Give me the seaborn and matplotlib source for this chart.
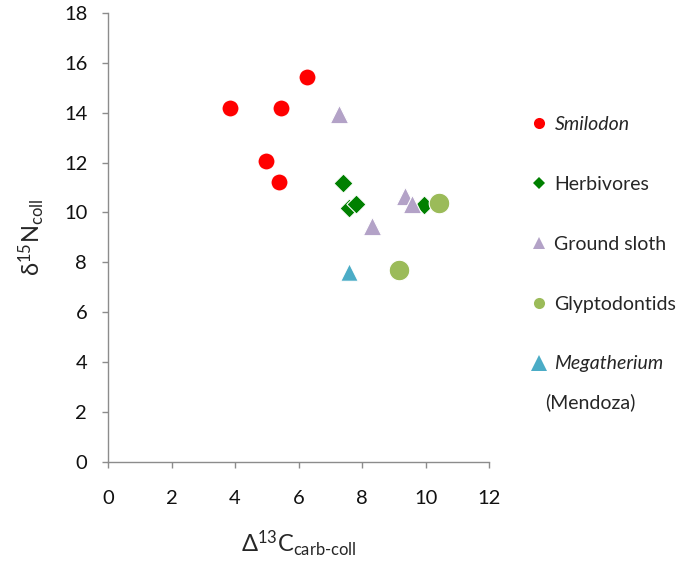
import pandas as pd
import matplotlib
matplotlib.use('Agg')
import matplotlib.pyplot as plt
import seaborn as sns
from matplotlib.lines import Line2D

# data
smilodon_x = [3.85, 5.45, 6.27, 4.98, 5.39]
smilodon_y = [14.2, 14.2, 15.44, 12.08, 11.24]
herb_x = [7.41, 7.60, 7.81, 9.96]
herb_y = [11.20, 10.20, 10.33, 10.31]
sloth_x = [7.27, 9.36, 9.57, 8.31]
sloth_y = [13.96, 10.68, 10.35, 9.44]
glypto_x = [10.43, 9.17]
glypto_y = [10.38, 7.69]
mega_x = [7.60]
mega_y = [7.61]

groups = ['Smilodon', 'Herbivores', 'Ground sloth', 'Glyptodontids', 'Megatherium']
colors = ['#FF0000', '#008000', '#B3A2C7', '#9BBB59', '#4BACC6']
markers = ['o', 'D', '^', 'o', '^']
sizes = [150, 95, 175, 220, 160]

xs = [smilodon_x, herb_x, sloth_x, glypto_x, mega_x]
ys = [smilodon_y, herb_y, sloth_y, glypto_y, mega_y]

sns.set_style('white')
plt.rcParams['font.family'] = ['Lato', 'DejaVu Sans']
plt.rcParams['mathtext.fontset'] = 'custom'
plt.rcParams['mathtext.rm'] = 'Lato'

fig = plt.figure(figsize=(6.84, 5.68), dpi=100)
ax = fig.add_axes([0.158, 0.187, 0.557, 0.790])

for g, c, m, s, x, y in zip(groups, colors, markers, sizes, xs, ys):
    df = pd.DataFrame({'x': x, 'y': y})
    sns.scatterplot(data=df, x='x', y='y', ax=ax, color=c, marker=m, s=s,
                    edgecolor='white', linewidth=0.8, legend=False, zorder=3)

ax.set_xlim(0, 12)
ax.set_ylim(0, 18)
ax.set_xticks(range(0, 13, 2))
ax.set_yticks(range(0, 19, 2))
for side in ['top', 'right']:
    ax.spines[side].set_visible(False)
for side in ['left', 'bottom']:
    ax.spines[side].set_color('#8c8c8c')
    ax.spines[side].set_linewidth(1.0)
ax.tick_params(axis='both', direction='out', length=4, width=1, color='#8c8c8c',
               labelsize=14.5, labelcolor='#111111')
ax.tick_params(axis='x', pad=16, bottom=True)
ax.tick_params(axis='y', pad=11, left=True)

ax.set_xlabel(r'$\mathregular{\Delta^{13}C_{carb\text{-}coll}}$', fontsize=17, labelpad=16)
ax.set_ylabel(r'$\mathregular{\delta^{15}N_{coll}}$', fontsize=17, labelpad=12)

handles = [
    Line2D([], [], ls='', marker='o', color=colors[0], markersize=8, markeredgewidth=0),
    Line2D([], [], ls='', marker='D', color=colors[1], markersize=6, markeredgewidth=0),
    Line2D([], [], ls='', marker='^', color=colors[2], markersize=8, markeredgewidth=0),
    Line2D([], [], ls='', marker='o', color=colors[3], markersize=8, markeredgewidth=0),
    Line2D([], [], ls='', marker='^', color=colors[4], markersize=11, markeredgewidth=0),
]
leg = fig.legend(handles, groups, loc='upper left', bbox_to_anchor=(0.768, 0.809),
                 frameon=False, fontsize=14, labelspacing=2.2, handlelength=0.6,
                 handletextpad=0.5, borderaxespad=0)
leg.get_texts()[0].set_style('italic')
leg.get_texts()[4].set_style('italic')
fig.text(0.797, 0.292, '(Mendoza)', fontsize=14, va='center', ha='left')

fig.savefig('out.png', dpi=100)
